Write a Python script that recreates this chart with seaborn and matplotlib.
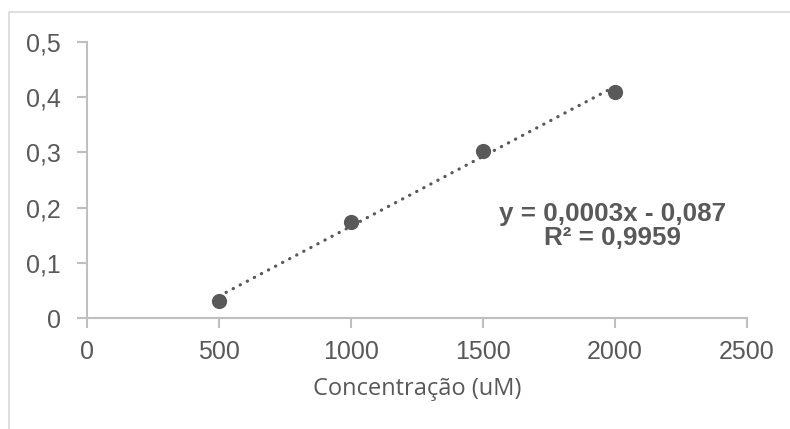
import seaborn as sns
import matplotlib.pyplot as plt
from matplotlib.patches import Rectangle
import pandas as pd

# calibration points
conc_um = [500, 1000, 1500, 2000]
absorb = [0.031, 0.174, 0.303, 0.410]
xticks = [0, 500, 1000, 1500, 2000, 2500]
yticks = [0, 0.1, 0.2, 0.3, 0.4, 0.5]
ytick_labels = ["0", "0,1", "0,2", "0,3", "0,4", "0,5"]
eq_text = "y = 0,0003x - 0,087\nR² = 0,9959"

GREY = "#595959"
AXCOL = "#bfbfbf"

sns.set_theme(style="white")
plt.rcParams['font.family'] = ['Liberation Sans', 'DejaVu Sans']

dfrm = pd.DataFrame({'x': conc_um, 'y': absorb})

fig = plt.figure(figsize=(7.9, 4.29), dpi=100)
ax = fig.add_axes([87/790, 1 - 318/429, 660/790, 276/429])

# light outer chart border (cropped on right/bottom like the source)
fig.patches.append(Rectangle((9/790, -0.1), 1.2, 1 - 12/429 + 0.1,
                             transform=fig.transFigure, fill=False,
                             edgecolor="#d9d9d9", linewidth=1.2))

sns.regplot(x='x', y='y', data=dfrm, ax=ax, ci=None, color=GREY,
            scatter_kws={'s': 120, 'alpha': 1, 'linewidths': 0, 'zorder': 3},
            line_kws={'linestyle': (0, (0.1, 2.4)), 'linewidth': 2.3,
                      'dash_capstyle': 'round', 'zorder': 2})

ax.set_xlim(0, 2500)
ax.set_ylim(0, 0.5)
ax.set_xticks(xticks)
ax.set_xticklabels([str(t) for t in xticks])
ax.set_yticks(yticks)
ax.set_yticklabels(ytick_labels)
for side in ['top', 'right']:
    ax.spines[side].set_visible(False)
for side in ['left', 'bottom']:
    ax.spines[side].set_color(AXCOL)
    ax.spines[side].set_linewidth(1.5)
ax.tick_params(axis='both', which='both', length=7, width=1.5, color=AXCOL,
               labelcolor=GREY, labelsize=18, direction='out',
               bottom=True, left=True)
ax.tick_params(axis='x', pad=9)
ax.tick_params(axis='y', pad=12)

ax.set_ylabel("")
ax.set_xlabel("Concentração (uM)", family=['Open Sans', 'DejaVu Sans'],
              fontsize=17, color=GREY, labelpad=9)

ax.text(1990, 0.167, eq_text, ha='center', va='center', fontsize=18.7,
        fontweight='bold', color=GREY, linespacing=1.0, multialignment='center')

fig.savefig("out.png", dpi=100)
